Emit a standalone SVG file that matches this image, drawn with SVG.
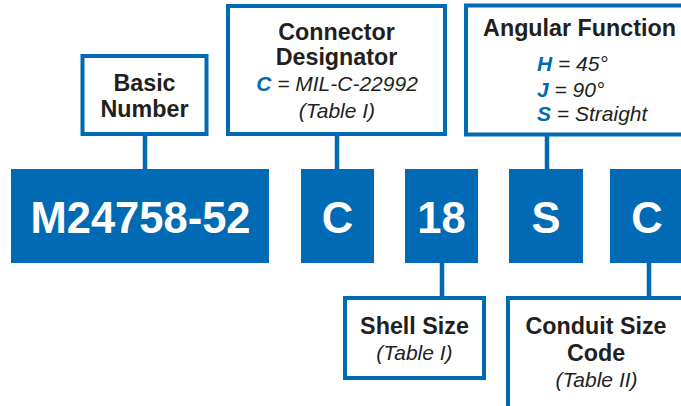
<svg xmlns="http://www.w3.org/2000/svg" width="681" height="406" viewBox="0 0 681 406">
<style>
.lbl{fill:#fff;stroke:#006ab4;stroke-width:4}
.blk{fill:#006ab4}
.big{font-family:"Liberation Sans",Arial,sans-serif;font-weight:bold;font-size:43.5px;fill:#fff;text-anchor:middle}
.hd{font-family:"Liberation Sans",Arial,sans-serif;font-weight:bold;font-size:23.3px;fill:#231f20;text-anchor:middle}
.it{font-family:"Liberation Sans",Arial,sans-serif;font-style:italic;font-size:21px;fill:#231f20}
.k{font-weight:bold;fill:#006ab4}
.conn line{stroke:#006ab4;stroke-width:4.5}
</style>
<rect width="681" height="406" fill="#fff"/>
<g class="conn">
<line x1="145" y1="134" x2="145" y2="170"/>
<line x1="337" y1="134" x2="337" y2="170"/>
<line x1="547" y1="134" x2="547" y2="170"/>
<line x1="442" y1="262" x2="442" y2="298"/>
<line x1="649" y1="262" x2="649" y2="298"/>
</g>
<g id="basic-number">
<rect class="lbl" x="82.5" y="56" width="124" height="78"/>
<text class="hd" x="144.5" y="90.5">Basic</text>
<text class="hd" x="144.5" y="116.5">Number</text>
</g>
<g id="connector-designator">
<rect class="lbl" x="228" y="6" width="217" height="128"/>
<text class="hd" x="336.5" y="39.5">Connector</text>
<text class="hd" x="336.5" y="65">Designator</text>
<text class="it" x="337" y="91" text-anchor="middle"><tspan class="k">C</tspan> = MIL-C-22992</text>
<text class="it" x="337" y="117.5" text-anchor="middle">(Table I)</text>
</g>
<g id="angular-function">
<rect class="lbl" x="466" y="5.5" width="240" height="129"/>
<text class="hd" x="579.5" y="36">Angular Function</text>
<text class="it" x="537" y="71"><tspan class="k">H</tspan> = 45°</text>
<text class="it" x="537" y="97"><tspan class="k">J</tspan> = 90°</text>
<text class="it" x="537" y="121"><tspan class="k">S</tspan> = Straight</text>
</g>
<g id="basic-number-code">
<rect class="blk" x="11" y="169" width="258" height="94"/>
<text class="big" x="140.5" y="233">M24758-52</text>
</g>
<g id="designator-code">
<rect class="blk" x="301" y="169" width="73" height="94"/>
<text class="big" x="337.5" y="233">C</text>
</g>
<g id="shell-size-code">
<rect class="blk" x="405" y="169" width="73" height="94"/>
<text class="big" x="441.5" y="233">18</text>
</g>
<g id="angular-code">
<rect class="blk" x="509" y="169" width="74" height="94"/>
<text class="big" x="546" y="233">S</text>
</g>
<g id="conduit-code">
<rect class="blk" x="610" y="169" width="74" height="94"/>
<text class="big" x="647" y="233">C</text>
</g>
<g id="shell-size">
<rect class="lbl" x="345" y="298" width="139" height="80"/>
<text class="hd" x="414.5" y="334">Shell Size</text>
<text class="it" x="414.5" y="360" text-anchor="middle">(Table I)</text>
</g>
<g id="conduit-size">
<rect class="lbl" x="508" y="298" width="200" height="130"/>
<text class="hd" x="596" y="334">Conduit Size</text>
<text class="hd" x="596" y="360.5">Code</text>
<text class="it" x="596.5" y="387" text-anchor="middle">(Table II)</text>
</g>
</svg>
